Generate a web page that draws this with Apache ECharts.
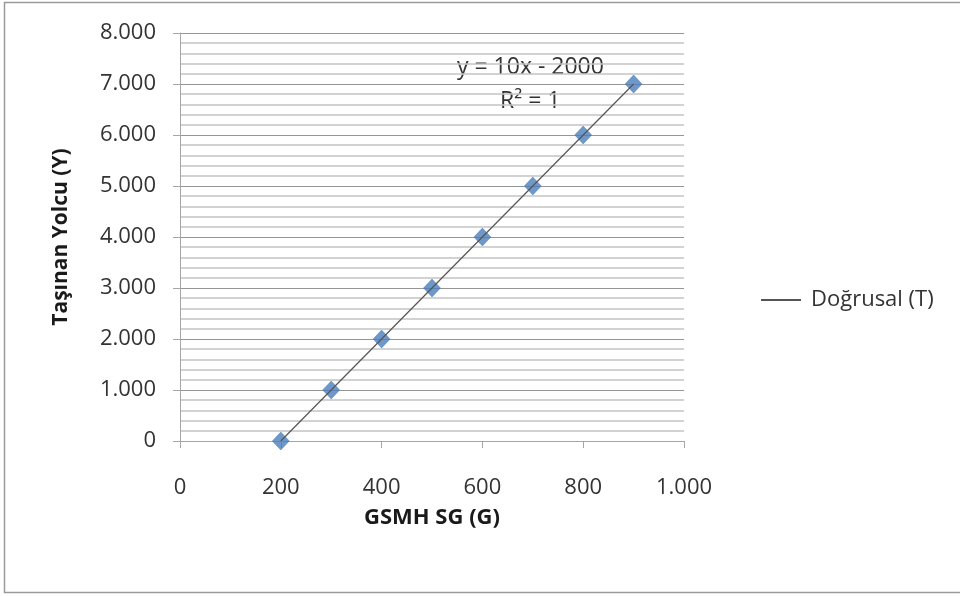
<!DOCTYPE html>
<html>
<head>
<meta charset="utf-8">
<script src="https://cdn.jsdelivr.net/npm/echarts@6/dist/echarts.min.js"></script>
<style>
html,body{margin:0;padding:0;background:#fff;}
#c{width:960px;height:596px;}
</style>
</head>
<body>
<div id="c"></div>
<script>
var gsmh = [200, 300, 400, 500, 600, 700, 800, 900];
var yolcu = [0, 1000, 2000, 3000, 4000, 5000, 6000, 7000];
var seriesName = 'Doğrusal (T)';
var xTitle = 'GSMH SG (G)';
var yTitle = 'Taşınan Yolcu (Y)';
var eqText = 'y = 10x - 2000';
var r2Text = 'R² = 1';

function fmt(v){
  return String(v).replace(/\B(?=(\d{3})+(?!\d))/g, '.');
}

// least-squares trendline computed from the data
var n = gsmh.length, sx=0, sy=0, sxx=0, sxy=0;
for (var i=0;i<n;i++){ sx+=gsmh[i]; sy+=yolcu[i]; sxx+=gsmh[i]*gsmh[i]; sxy+=gsmh[i]*yolcu[i]; }
var slope = (n*sxy - sx*sy)/(n*sxx - sx*sx);
var inter = (sy - slope*sx)/n;
var xMin = Math.min.apply(null,gsmh), xMax = Math.max.apply(null,gsmh);
var trend = [[xMin, slope*xMin+inter],[xMax, slope*xMax+inter]];

var pts = gsmh.map(function(x,i){return [x, yolcu[i]];});

var font = '"Open Sans", "Liberation Sans", sans-serif';
var chart = echarts.init(document.getElementById('c'), null, {renderer:'canvas'});
chart.setOption({
  animation:false,
  backgroundColor:'#fff',
  grid:{left:180, top:33, width:504, height:408},
  legend:{
    data:[{name:seriesName, icon:'path://M0,0 L40,0 L40,2 L0,2 Z'}],
    orient:'vertical', left:756, top:284,
    itemWidth:50, itemHeight:2, itemGap:6,
    textStyle:{fontFamily:font, fontSize:22, color:'#333'}
  },
  xAxis:{
    type:'value', min:0, max:1000, interval:200,
    name:xTitle, nameLocation:'middle', nameGap:66,
    nameTextStyle:{fontFamily:font, fontSize:22, fontWeight:'bold', color:'#1a1a1a'},
    axisLine:{show:true, lineStyle:{color:'#a6a6a6', width:1}},
    axisTick:{show:true, length:7, inside:false, lineStyle:{color:'#a6a6a6'}},
    axisLabel:{fontFamily:font, fontSize:22, color:'#333', margin:36, formatter:fmt},
    splitLine:{show:false}
  },
  yAxis:{
    type:'value', min:0, max:8000, interval:1000,
    name:yTitle, nameLocation:'middle', nameGap:108, nameRotate:90,
    nameTextStyle:{fontFamily:font, fontSize:21, fontWeight:'bold', color:'#1a1a1a'},
    axisLine:{show:true, lineStyle:{color:'#a6a6a6', width:1}},
    axisTick:{show:true, length:7, lineStyle:{color:'#a6a6a6'}},
    axisLabel:{fontFamily:font, fontSize:22, color:'#333', margin:24, formatter:fmt},
    splitLine:{show:true, lineStyle:{color:'#959595', width:1.2}},
    minorTick:{show:false, splitNumber:5},
    minorSplitLine:{show:true, lineStyle:{color:'#c4c4c4', width:1.5}}
  },
  graphic:[
    {type:'rect', shape:{x:4.5, y:2.5, width:970, height:590}, style:{fill:'none', stroke:'#9a9a9a', lineWidth:1.5}, silent:true},
    {type:'text', left:457, top:56, style:{text:eqText, font:'23px "Open Sans", sans-serif', fill:'#333'}},
    {type:'text', left:500, top:90, style:{text:r2Text, font:'23px "Open Sans", sans-serif', fill:'#333'}}
  ],
  series:[
    {
      name:seriesName, type:'line', data:trend, symbol:'none',
      lineStyle:{color:'#555', width:1.2}, itemStyle:{color:'#555'}, z:3
    },
    {
      name:'points', type:'scatter', data:pts, symbol:'diamond', symbolSize:[17,18],
      itemStyle:{color:'#4a7ebb', borderColor:'#3d6fae', borderWidth:0.5}, z:2
    }
  ]
});
</script>
</body>
</html>
